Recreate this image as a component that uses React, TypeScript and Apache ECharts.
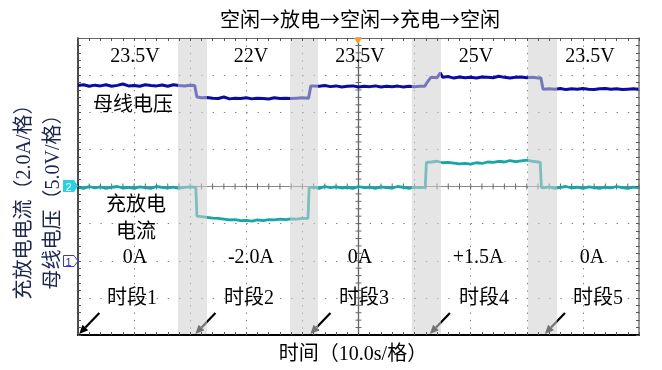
import React, { useEffect, useRef } from "react";
import * as echarts from "echarts";

// ---------- texts ----------
const chartTitle = "空闲→放电→空闲→充电→空闲";
const voltageAxisName = "母线电压（5.0V/格）";
const currentAxisName = "充放电电流（2.0A/格）";
const timeAxisName = "时间（10.0s/格）";
const voltageTraceName = "母线电压";
const currentTraceName = ["充放电", "电流"];
const busVoltageLabels = ["23.5V", "22V", "23.5V", "25V", "23.5V"];
const currentLabels = ["0A", "-2.0A", "0A", "+1.5A", "0A"];
const periodLabels = ["时段1", "时段2", "时段3", "时段4", "时段5"];

// ---------- time (s) of the transition bands and arrows ----------
const transitionBands = [
  [17.8, 23.0],
  [37.8, 42.8],
  [59.5, 64.7],
  [80.2, 85.4],
];
const arrowTimes = [0.2, 20.9, 41.4, 62.7, 83.2];

// ---------- traces: [time s, value] ----------
const busVoltage = [
  [0, 23.6], [1, 23.7], [2, 23.5], [3, 23.65], [4, 23.55], [5, 23.7], [6, 23.5], [7, 23.62], [8, 23.8], [9, 23.55],
  [10, 23.6], [11, 23.5], [12, 23.7], [13, 23.6], [14, 23.55], [15, 23.68], [16, 23.5], [17, 23.7], [18, 23.6], [19, 23.55],
  [20, 23.65], [20.8, 23.6], [21.2, 22.05],
  [22, 21.95], [23, 22.0], [24, 21.9], [25, 21.85], [26, 22.05], [27, 21.8], [28, 21.9], [29, 21.85], [30, 21.95], [31, 21.8],
  [32, 21.9], [33, 21.85], [34, 21.78], [35, 21.95], [36, 21.85], [37, 21.9], [38, 21.85], [39, 21.9], [40, 21.95],
  [41.1, 21.9], [41.5, 23.55],
  [42, 23.55], [43, 23.5], [44, 23.6], [45, 23.45], [46, 23.55], [47, 23.4], [48, 23.5], [49, 23.55], [50, 23.4], [51, 23.5],
  [52, 23.45], [53, 23.55], [54, 23.4], [55, 23.5], [56, 23.45], [57, 23.52], [58, 23.4], [59, 23.5], [60, 23.45], [61, 23.5],
  [61.8, 23.5], [62.3, 24.1], [62.8, 24.6],
  [63, 24.7], [64, 24.65], [64.6, 25.3], [65, 24.7], [66, 24.8], [67, 24.6], [68, 24.75], [69, 24.65], [70, 24.7], [71, 24.6],
  [72, 24.75], [73, 24.7], [74, 24.65], [75, 24.85], [76, 24.7], [77, 24.6], [78, 24.7], [79, 24.75], [80, 24.65], [81, 24.7], [82, 24.6],
  [82.5, 24.65], [82.9, 23.1],
  [84, 23.15], [85, 23.1], [86, 23.2], [87, 23.05], [88, 23.15], [89, 23.1], [90, 23.2], [91, 23.1], [92, 23.05], [93, 23.15],
  [94, 23.2], [95, 23.1], [96, 23.15], [97, 23.05], [98, 23.1], [99, 23.15], [100, 23.1],
];

const chargeCurrent = [
  [0, -0.05], [1, -0.1], [2, 0], [3, -0.08], [4, -0.02], [5, -0.1], [6, -0.05], [7, 0], [8, -0.08], [9, -0.05],
  [10, -0.1], [11, -0.02], [12, -0.06], [13, -0.1], [14, 0], [15, -0.05], [16, -0.08], [17, -0.03], [18, -0.1], [19, -0.05],
  [20, -0.02], [21.0, -0.05], [21.2, -1.6],
  [22, -1.62], [23, -1.66], [24, -1.7], [25, -1.72], [26, -1.76], [27, -1.8], [28, -1.78], [29, -1.84], [30, -1.82], [31, -1.86],
  [32, -1.8], [33, -1.84], [34, -1.78], [35, -1.8], [36, -1.76], [37, -1.78], [38, -1.74], [39, -1.76], [40, -1.72],
  [41.0, -1.72], [41.2, -0.05],
  [42, -0.05], [43, -0.1], [44, 0], [45, -0.06], [46, -0.02], [47, -0.08], [48, -0.05], [49, -0.1], [50, 0], [51, -0.06],
  [52, -0.04], [53, -0.1], [54, -0.02], [55, -0.06], [56, -0.08], [57, 0], [58, -0.05], [59, -0.1], [60, -0.04], [61, -0.06],
  [61.9, -0.05], [62.1, 1.3],
  [63, 1.32], [64, 1.36], [65, 1.28], [66, 1.3], [67, 1.26], [68, 1.22], [69, 1.25], [70, 1.2], [71, 1.28], [72, 1.24],
  [73, 1.32], [74, 1.3], [75, 1.36], [76, 1.32], [77, 1.4], [78, 1.34], [79, 1.38], [80, 1.42], [81, 1.36], [82, 1.32],
  [82.4, 1.3], [82.6, -0.05],
  [83, -0.08], [84, -0.02], [85, -0.1], [86, -0.05], [87, 0], [88, -0.08], [89, -0.04], [90, -0.1], [91, -0.02], [92, -0.06],
  [93, -0.1], [94, -0.04], [95, -0.08], [96, 0], [97, -0.06], [98, -0.1], [99, -0.03], [100, -0.07],
];

// ---------- layout (pixels) ----------
const FONT = '"Liberation Serif", "Noto Sans CJK SC", serif';
const voltageLabelX = [135, 251, 360, 476, 590];
const currentLabelX = [135, 251, 360, 478, 592];
const periodLabelX = [132, 249, 364, 484, 598];

function txt(text: string, x: number, y: number, size = 20, extra: any = {}) {
  return {
    type: "text",
    x,
    y,
    z: 20,
    ...extra,
    style: {
      text,
      fill: extra.fill || "#000",
      font: `${size}px ${extra.family || FONT}`,
      align: "center",
      verticalAlign: "middle",
      textAlign: "center",
      textVerticalAlign: "middle",
    },
  };
}

export default function App() {
  const ref = useRef<HTMLDivElement>(null);
  useEffect(() => {
    document.body.style.margin = "0";
    const chart = echarts.init(ref.current!, null, { renderer: "svg" });

    const tickStyle = { color: "#555", width: 1 };
    const borderAxisX = (position: string, color: string, width: number) => ({
      type: "value",
      min: 0,
      max: 100,
      interval: 10,
      position,
      z: 12,
      axisLine: { show: true, onZero: false, lineStyle: { color, width } },
      axisTick: { show: true, inside: true, length: 3, lineStyle: tickStyle },
      minorTick: { show: true, splitNumber: 5, length: 3, lineStyle: tickStyle },
      axisLabel: { show: false },
      splitLine: { show: false },
    });
    const borderAxisY = (position: string, color: string, width: number) => ({
      type: "value",
      min: -10,
      max: 30,
      interval: 5,
      position,
      z: 12,
      axisLine: { show: true, onZero: false, lineStyle: { color, width } },
      axisTick: { show: true, inside: true, length: 3, lineStyle: tickStyle },
      minorTick: { show: true, splitNumber: 5, length: 3, lineStyle: tickStyle },
      axisLabel: { show: false },
      splitLine: { show: false },
    });

    const graphics: any[] = [
      txt(chartTitle, 360, 18, 20, { family: '"Noto Sans CJK SC", sans-serif' }),
      ...busVoltageLabels.map((t, i) => txt(t, voltageLabelX[i], 55)),
      ...currentLabels.map((t, i) => txt(t, currentLabelX[i], 256)),
      ...periodLabels.map((t, i) => txt(t, periodLabelX[i], 297)),
      txt(voltageTraceName, 133, 104),
      txt(currentTraceName[0], 136, 204),
      txt(currentTraceName[1], 136, 231),
      txt(timeAxisName, 353, 353),
      txt(currentAxisName, 23, 197, 20, { rotation: Math.PI / 2, fill: "#1c2550" }),
      txt(voltageAxisName, 52, 197, 20, { rotation: Math.PI / 2, fill: "#1c2550" }),
      // channel 2 marker
      {
        type: "polygon",
        z: 20,
        shape: { points: [[63, 180], [74, 180], [78, 186], [74, 192], [63, 192]] },
        style: { fill: "#2ad0e4" },
      },
      txt("2", 68.5, 186.5, 11, { fill: "#fff", family: "Liberation Sans, sans-serif" }),
      // channel 1 marker
      {
        type: "polygon",
        z: 20,
        shape: { points: [[63.5, 255.5], [74, 255.5], [78, 261], [74, 266.5], [63.5, 266.5]] },
        style: { fill: "#fbfbf0", stroke: "#3434d8", lineWidth: 1 },
      },
      txt("1", 68.5, 261.5, 11, { fill: "#2a2ad0", family: "Liberation Sans, sans-serif" }),
      // trigger marker
      {
        type: "polygon",
        z: 20,
        shape: { points: [[354, 38], [362, 38], [358, 44]] },
        style: { fill: "#f5a020" },
      },
    ];

    const option: any = {
      animation: false,
      grid: { left: 78, top: 38, width: 561, height: 297 },
      xAxis: [
        {
          type: "value",
          min: 0,
          max: 100,
          interval: 10,
          position: "bottom",
          axisLine: { show: false, onZero: false },
          axisTick: { show: false },
          axisLabel: { show: false },
          splitLine: { show: true, lineStyle: { color: "#808080", width: 1, type: [1.4, 6.02] } },
        },
        borderAxisX("bottom", "#000", 2),
        borderAxisX("top", "#666", 1),
      ],
      yAxis: [
        {
          type: "value",
          min: -10,
          max: 30,
          interval: 5,
          position: "left",
          axisLine: { show: false, onZero: false },
          axisTick: { show: false },
          axisLabel: { show: false },
          splitLine: { show: true, lineStyle: { color: "#808080", width: 1, type: [1.4, 9.82] } },
        },
        {
          type: "value",
          min: -8,
          max: 8,
          interval: 2,
          position: "left",
          axisLine: { show: false, onZero: false },
          axisTick: { show: false },
          axisLabel: { show: false },
          splitLine: { show: false },
        },
        borderAxisY("left", "#111", 1.5),
        borderAxisY("right", "#777", 1.5),
      ],
      graphic: graphics,
      series: [
        {
          type: "custom",
          xAxisIndex: 0,
          yAxisIndex: 1,
          silent: true,
          z: 1,
          data: [[50, 0]],
          renderItem: (_p: any, api: any) => {
            const [cx, cy] = api.coord([50, 0]);
            const top = api.coord([50, 8])[1];
            const bottom = api.coord([50, -8])[1];
            const left = api.coord([0, 0])[0];
            const right = api.coord([100, 0])[0];
            const children: any[] = [
              { type: "line", shape: { x1: cx, y1: top, x2: cx, y2: bottom }, style: { stroke: "#666", lineWidth: 1.3 } },
              { type: "line", shape: { x1: left, y1: cy, x2: right, y2: cy }, style: { stroke: "#888", lineWidth: 1 } },
            ];
            for (let t = 0; t <= 100; t += 2) {
              const x = api.coord([t, 0])[0];
              children.push({ type: "line", shape: { x1: x, y1: cy - 3, x2: x, y2: cy + 3 }, style: { stroke: "#666", lineWidth: 1 } });
            }
            for (let k = 0; k <= 40; k++) {
              const y = api.coord([50, -8 + k * 0.4])[1];
              children.push({ type: "line", shape: { x1: cx - 3, y1: y, x2: cx + 3, y2: y }, style: { stroke: "#666", lineWidth: 1 } });
            }
            return { type: "group", children };
          },
        },
        {
          // pointer arrows at the start of each period (drawn on the voltage axis)
          type: "custom",
          xAxisIndex: 0,
          yAxisIndex: 0,
          silent: true,
          z: 5,
          data: arrowTimes.map((t) => [t]),
          renderItem: (_p: any, api: any) => {
            const t = api.value(0);
            const tip = api.coord([t, -9.85]);
            const tail = api.coord([t + 3.6, -7.05]);
            const dx = tail[0] - tip[0];
            const dy = tail[1] - tip[1];
            const len = Math.sqrt(dx * dx + dy * dy);
            const ux = dx / len;
            const uy = dy / len;
            const hl = 9;
            const hw = 4;
            const bx = tip[0] + ux * hl;
            const by = tip[1] + uy * hl;
            return {
              type: "group",
              children: [
                { type: "line", shape: { x1: bx, y1: by, x2: tail[0], y2: tail[1] }, style: { stroke: "#000", lineWidth: 2.2 } },
                {
                  type: "polygon",
                  shape: { points: [tip, [bx - uy * hw, by + ux * hw], [bx + uy * hw, by - ux * hw]] },
                  style: { fill: "#000" },
                },
              ],
            };
          },
        },
        {
          type: "line",
          name: "母线电压",
          xAxisIndex: 0,
          yAxisIndex: 0,
          data: busVoltage,
          showSymbol: false,
          silent: true,
          z: 3,
          lineStyle: { color: "#0b0ba4", width: 3 },
        },
        {
          type: "line",
          name: "充放电电流",
          xAxisIndex: 0,
          yAxisIndex: 1,
          data: chargeCurrent,
          showSymbol: false,
          silent: true,
          z: 3,
          lineStyle: { color: "#17a6a6", width: 2.8 },
          markArea: {
            silent: true,
            z: 10,
            itemStyle: { color: "rgba(208,208,208,0.55)", borderWidth: 0 },
            label: { show: false },
            data: transitionBands.map(([a, b]) => [{ xAxis: a }, { xAxis: b }]),
          },
        },
      ],
    };
    chart.setOption(option);
    return () => chart.dispose();
  }, []);
  return <div ref={ref} style={{ position: "fixed", left: 0, top: 0, width: 662, height: 370 }} />;
}
